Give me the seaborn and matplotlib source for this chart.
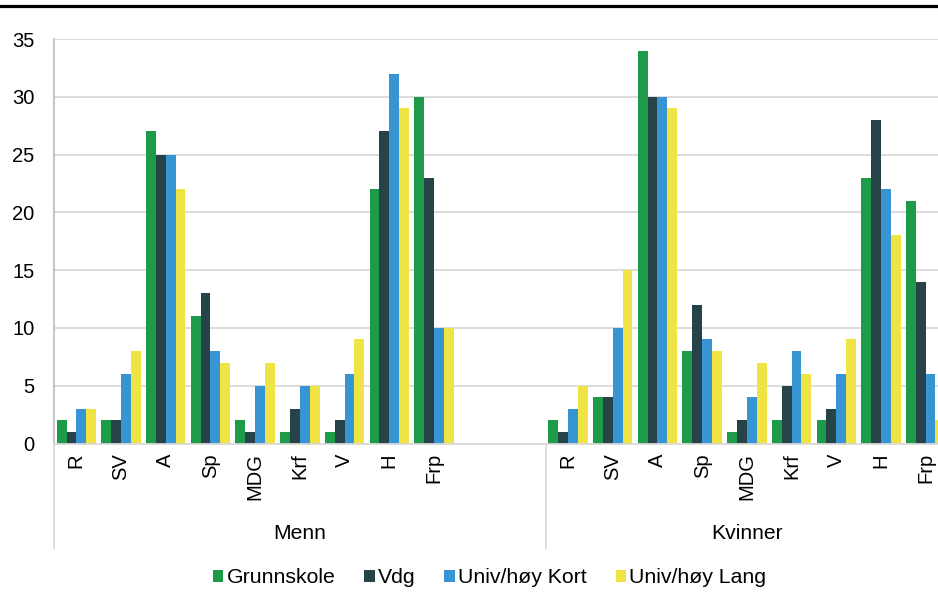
import pandas as pd
import matplotlib.pyplot as plt
import seaborn as sns
from matplotlib.lines import Line2D
from matplotlib.patches import Patch

# --- Data ---
parties = ["R", "SV", "A", "Sp", "MDG", "Krf", "V", "H", "Frp"]
genders = ["Menn", "Kvinner"]
levels = ["Grunnskole", "Vdg", "Univ/høy Kort", "Univ/høy Lang"]
colors = ["#1d9b49", "#27434a", "#3695d2", "#efe443"]

menn_grunnskole = [2, 2, 27, 11, 2, 1, 1, 22, 30]
menn_vdg = [1, 2, 25, 13, 1, 3, 2, 27, 23]
menn_kort = [3, 6, 25, 8, 5, 5, 6, 32, 10]
menn_lang = [3, 8, 22, 7, 7, 5, 9, 29, 10]

kvinner_grunnskole = [2, 4, 34, 8, 1, 2, 2, 23, 21]
kvinner_vdg = [1, 4, 30, 12, 2, 5, 3, 28, 14]
kvinner_kort = [3, 10, 30, 9, 4, 8, 6, 22, 6]
kvinner_lang = [5, 15, 29, 8, 7, 6, 9, 18, 2]

# Build long table
rows = []
series = {
    "Menn": [menn_grunnskole, menn_vdg, menn_kort, menn_lang],
    "Kvinner": [kvinner_grunnskole, kvinner_vdg, kvinner_kort, kvinner_lang],
}
for g in genders:
    for lvl, vals in zip(levels, series[g]):
        for p, v in zip(parties, vals):
            rows.append({"slot": f"{g}|{p}", "level": lvl, "value": v})
df = pd.DataFrame(rows)

# Menn has two empty slots after Frp, like the original
order = [f"Menn|{p}" for p in parties] + ["gap1", "gap2"] + [f"Kvinner|{p}" for p in parties]
tick_labels = parties + ["", ""] + parties

sns.set_theme(style="white")
plt.rcParams["font.family"] = ["Liberation Sans", "DejaVu Sans"]
plt.rcParams["text.color"] = "black"
plt.rcParams["xtick.color"] = "black"
plt.rcParams["ytick.color"] = "black"
fs = 14.5

fig = plt.figure(figsize=(9.38, 5.92), dpi=100)
W, H = 938, 592
ax = fig.add_axes([54 / W, (H - 443.5) / H, 894 / W, 404.5 / H])

sns.barplot(data=df, x="slot", y="value", hue="level", order=order,
            hue_order=levels, palette=colors, width=0.88, saturation=1,
            linewidth=0, legend=False, ax=ax)

ax.set_xlim(-0.5, len(order) - 0.5)
ax.set_ylim(0, 35)
ax.set_yticks(range(0, 36, 5))
ax.yaxis.grid(True, color="#d9d9d9", lw=1.3)
ax.set_axisbelow(True)
ax.set_xlabel("")
ax.set_ylabel("")
ax.set_xticks(range(len(order)))
ax.set_xticklabels(tick_labels, rotation=90, fontsize=fs, va="top")
ax.tick_params(axis="x", length=0, pad=7)
ax.tick_params(axis="y", length=0, pad=14, labelsize=fs)
for s in ["top", "right"]:
    ax.spines[s].set_visible(False)
ax.spines["left"].set_color("#bfbfbf")
ax.spines["left"].set_linewidth(1.3)
ax.spines["bottom"].set_color("#d9d9d9")
ax.spines["bottom"].set_linewidth(1.3)

# Group separators and group labels below the axis
tr = ax.get_xaxis_transform()
for xb in [-0.5, 10.5]:
    ax.plot([xb, xb], [0, -0.259], transform=tr, color="#d9d9d9", lw=1.3, clip_on=False)
ax.text(5, -0.222, "Menn", transform=tr, ha="center", va="center", fontsize=15.2)
ax.text(15, -0.222, "Kvinner", transform=tr, ha="center", va="center", fontsize=15.2)

# Legend
handles = [Patch(facecolor=c, edgecolor="none") for c in colors]
fig.legend(handles, levels, loc="center", bbox_to_anchor=(0.522, 0.024),
           ncol=4, frameon=False, fontsize=15.3, handlelength=0.5,
           handleheight=0.5, handletextpad=0.15, columnspacing=1.35)

# Thick black line along the top
fig.add_artist(Line2D([0, 1], [(H - 6) / H] * 2, transform=fig.transFigure,
                      color="black", lw=2.3))

plt.savefig("out.png", dpi=100)
plt.close()
